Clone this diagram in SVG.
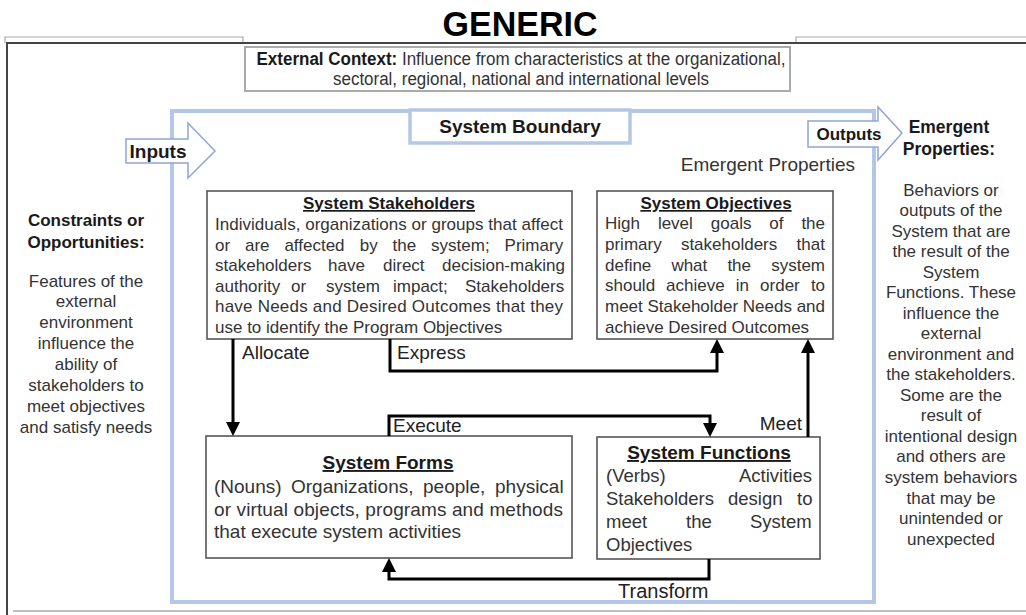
<svg xmlns="http://www.w3.org/2000/svg" width="1026" height="615" viewBox="0 0 1026 615">
<style>
text{font-family:"Liberation Sans",Arial,Helvetica,sans-serif;fill:#333}
.b{font-weight:bold;fill:#1a1a1a}
.ttl{font-weight:bold;fill:#1a1a1a;text-decoration:underline}
.body{font-size:17px}
.side{font-size:17px;text-anchor:middle}
.lbl{font-size:19px;fill:#222}
.box{fill:#fff;stroke:#555;stroke-width:1.6}
.con{fill:none;stroke:#000;stroke-width:3}
.blk{fill:#fff;stroke:#8ea6d2;stroke-width:1.5}
</style>
<defs>
<marker id="ah" viewBox="0 0 14 14" refX="0" refY="7" markerWidth="14" markerHeight="14" markerUnits="userSpaceOnUse" orient="auto">
<path d="M0,0 L14,7 L0,14 z" fill="#000"/>
</marker>
</defs>
<rect width="1026" height="615" fill="#fff"/>
<g id="frame">
<polyline points="5,43 5,37 243,37 243,43" fill="none" stroke="#aaa" stroke-width="1.2"/>
<polyline points="796,43 796,37 1026,37" fill="none" stroke="#aaa" stroke-width="1.2"/>
<line x1="6" y1="43" x2="1026" y2="43" stroke="#444" stroke-width="2"/>
<line x1="7" y1="43" x2="7" y2="615" stroke="#444" stroke-width="2"/>
<line x1="13" y1="611" x2="1026" y2="611" stroke="#aaa" stroke-width="1.5"/>
</g>
<g id="title">
<text x="520" y="36" text-anchor="middle" class="b" style="font-size:35px;fill:#000" textLength="155" lengthAdjust="spacingAndGlyphs">GENERIC</text>
</g>
<g id="external-context">
<rect x="245" y="47" width="545" height="44" fill="#fff" stroke="#aaa" stroke-width="2"/>
<text x="521" y="65" text-anchor="middle" style="font-family:'Liberation Sans Narrow','Liberation Sans',sans-serif;font-size:18px" textLength="529" lengthAdjust="spacingAndGlyphs"><tspan class="b">External Context:</tspan> Influence from characteristics at the organizational,</text>
<text x="521" y="85" text-anchor="middle" style="font-family:'Liberation Sans Narrow','Liberation Sans',sans-serif;font-size:18px" textLength="376" lengthAdjust="spacingAndGlyphs">sectoral, regional, national and international levels</text>
</g>
<g id="system-boundary">
<rect x="172" y="111" width="702" height="491" fill="none" stroke="#b4c7e7" stroke-width="4"/>
<rect x="410" y="110" width="220" height="33" fill="#fff" stroke="#b4c7e7" stroke-width="3.5"/>
<text x="520" y="133" text-anchor="middle" class="b" style="font-size:19px">System Boundary</text>
<text x="855" y="171" text-anchor="end" style="font-size:19px">Emergent Properties</text>
</g>
<g id="inputs">
<polygon class="blk" points="126,139 188,139 188,123 215,151 188,178 188,163 126,163"/>
<text x="158" y="158" text-anchor="middle" class="b" style="font-size:19px">Inputs</text>
</g>
<g id="outputs">
<polygon class="blk" points="808,121 878,121 878,107 902,133 878,160 878,147 808,147"/>
<text x="849" y="140" text-anchor="middle" class="b" style="font-size:17px">Outputs</text>
</g>
<g id="constraints">
<text class="side b" x="86" y="226">Constraints or</text>
<text class="side b" x="86" y="248">Opportunities:</text>
<text class="side" x="86" y="287">Features of the</text>
<text class="side" x="86" y="307">external</text>
<text class="side" x="86" y="328">environment</text>
<text class="side" x="86" y="349">influence the</text>
<text class="side" x="86" y="370">ability of</text>
<text class="side" x="86" y="391">stakeholders to</text>
<text class="side" x="86" y="412">meet objectives</text>
<text class="side" x="86" y="433">and satisfy needs</text>
</g>
<g id="emergent-properties">
<text class="side b" x="949" y="133" style="font-size:17.5px">Emergent</text>
<text class="side b" x="949" y="155" style="font-size:17.5px">Properties:</text>
<text class="side" x="951" y="195.5">Behaviors or</text>
<text class="side" x="951" y="216">outputs of the</text>
<text class="side" x="951" y="236.6">System that are</text>
<text class="side" x="951" y="257.1">the result of the</text>
<text class="side" x="951" y="277.6">System</text>
<text class="side" x="951" y="298.2">Functions. These</text>
<text class="side" x="951" y="318.7">influence the</text>
<text class="side" x="951" y="339.2">external</text>
<text class="side" x="951" y="359.7">environment and</text>
<text class="side" x="951" y="380.3">the stakeholders.</text>
<text class="side" x="951" y="400.8">Some are the</text>
<text class="side" x="951" y="421.3">result of</text>
<text class="side" x="951" y="441.9">intentional design</text>
<text class="side" x="951" y="462.4">and others are</text>
<text class="side" x="951" y="482.9">system behaviors</text>
<text class="side" x="951" y="503.5">that may be</text>
<text class="side" x="951" y="524">unintended or</text>
<text class="side" x="951" y="544.5">unexpected</text>
</g>
<g id="system-stakeholders">
<rect class="box" x="207" y="191" width="365" height="148"/>
<text x="389" y="209" text-anchor="middle" class="ttl" style="font-size:17px">System Stakeholders</text>
<text class="body" x="215" y="230" textLength="348" lengthAdjust="spacing">Individuals, organizations or groups that affect</text>
<text class="body" y="251"><tspan x="215">or</tspan><tspan x="245">are</tspan><tspan x="284.4">affected</tspan><tspan x="359.8">by</tspan><tspan x="392.6">the</tspan><tspan x="431.1">system;</tspan><tspan x="504.6">Primary</tspan></text>
<text class="body" y="271"><tspan x="215">stakeholders</tspan><tspan x="328">have</tspan><tspan x="383">direct</tspan><tspan x="442">decision-making</tspan></text>
<text class="body" y="292"><tspan x="215">authority</tspan><tspan x="291">or</tspan><tspan x="326">system</tspan><tspan x="393">impact;</tspan><tspan x="465">Stakeholders</tspan></text>
<text class="body" x="215" y="312" textLength="348" lengthAdjust="spacing">have Needs and Desired Outcomes that they</text>
<text class="body" x="215" y="333">use to identify the Program Objectives</text>
</g>
<g id="system-objectives">
<rect class="box" x="597" y="191" width="236" height="148"/>
<text x="716" y="209" text-anchor="middle" class="ttl" style="font-size:17px">System Objectives</text>
<text class="body" y="229"><tspan x="605">High</tspan><tspan x="657.9">level</tspan><tspan x="710.8">goals</tspan><tspan x="769.3">of</tspan><tspan x="801.4">the</tspan></text>
<text class="body" y="250"><tspan x="605">primary</tspan><tspan x="680.9">stakeholders</tspan><tspan x="796.6">that</tspan></text>
<text class="body" y="271"><tspan x="605">define</tspan><tspan x="671.4">what</tspan><tspan x="727.4">the</tspan><tspan x="771.2">system</tspan></text>
<text class="body" y="291"><tspan x="605">should</tspan><tspan x="666.1">achieve</tspan><tspan x="735.8">in</tspan><tspan x="760.1">order</tspan><tspan x="810.9">to</tspan></text>
<text class="body" x="605" y="312" textLength="220" lengthAdjust="spacing">meet Stakeholder Needs and</text>
<text class="body" x="605" y="333">achieve Desired Outcomes</text>
</g>
<g id="system-forms">
<rect class="box" x="206" y="436" width="366" height="122"/>
<text x="388" y="469" text-anchor="middle" class="ttl" style="font-size:19px">System Forms</text>
<text y="493" style="font-size:19px"><tspan x="214">(Nouns)</tspan><tspan x="291">Organizations,</tspan><tspan x="423">people,</tspan><tspan x="495">physical</tspan></text>
<text x="214" y="516" style="font-size:19px" textLength="349" lengthAdjust="spacing">or virtual objects, programs and methods</text>
<text x="214" y="538" style="font-size:19px">that execute system activities</text>
</g>
<g id="system-functions">
<rect class="box" x="597" y="437" width="223" height="122"/>
<text x="709" y="459" text-anchor="middle" class="ttl" style="font-size:19px">System Functions</text>
<text y="482" style="font-size:18.5px"><tspan x="606">(Verbs)</tspan><tspan x="739">Activities</tspan></text>
<text y="505" style="font-size:18.5px"><tspan x="606">Stakeholders</tspan><tspan x="728">design</tspan><tspan x="797">to</tspan></text>
<text y="528" style="font-size:18.5px"><tspan x="606">meet</tspan><tspan x="686">the</tspan><tspan x="750">System</tspan></text>
<text x="606" y="551" style="font-size:18.5px">Objectives</text>
</g>
<g id="connectors">
<path class="con" d="M233,339 V422" marker-end="url(#ah)"/>
<path class="con" d="M390,339 V371 H717 V353" marker-end="url(#ah)"/>
<path class="con" d="M389,436 V416 H710 V423" marker-end="url(#ah)"/>
<path class="con" d="M808,437 V353" marker-end="url(#ah)"/>
<path class="con" d="M709,559 V579 H389 V572" marker-end="url(#ah)"/>
<text class="lbl" x="242" y="359">Allocate</text>
<text class="lbl" x="397" y="359">Express</text>
<text class="lbl" x="393" y="432">Execute</text>
<text class="lbl" x="802" y="430" text-anchor="end">Meet</text>
<text class="lbl" x="618" y="598" style="font-size:20px">Transform</text>
</g>
</svg>
